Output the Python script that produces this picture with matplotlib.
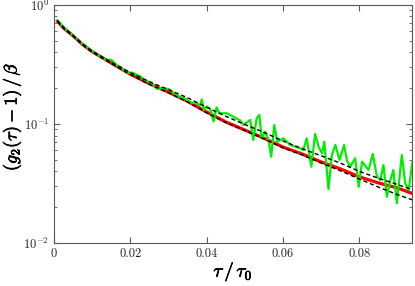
import matplotlib
matplotlib.use("Agg")
import matplotlib.pyplot as plt
import matplotlib.patheffects as pe
from matplotlib.ticker import LogLocator, NullFormatter, FixedLocator

plt.rcParams['mathtext.fontset'] = 'cm'
plt.rcParams['font.family'] = 'serif'
plt.rcParams['font.serif'] = ['cmr10', 'DejaVu Serif']
plt.rcParams['axes.formatter.use_mathtext'] = True

# fitted curve (red)
fit_x = [0.0009, 0.0025, 0.005, 0.0075, 0.01, 0.015, 0.02, 0.025, 0.03, 0.035,
         0.04, 0.045, 0.05, 0.055, 0.06, 0.065, 0.07, 0.075, 0.08, 0.085,
         0.09, 0.094]
fit_y = [0.73, 0.64, 0.55, 0.465, 0.405, 0.325, 0.262, 0.218, 0.185, 0.155,
         0.126, 0.104, 0.089, 0.076, 0.064, 0.056, 0.048, 0.042, 0.036, 0.032,
         0.029, 0.026]

# upper / lower bounds (black dashed)
upper_y = [0.74, 0.65, 0.555, 0.47, 0.41, 0.33, 0.27, 0.226, 0.194, 0.166,
           0.138, 0.116, 0.099, 0.085, 0.072, 0.062, 0.054, 0.047, 0.040, 0.035,
           0.031, 0.028]
lower_y = [0.725, 0.635, 0.545, 0.46, 0.40, 0.322, 0.259, 0.215, 0.183, 0.153,
           0.124, 0.103, 0.088, 0.075, 0.063, 0.055, 0.047, 0.0405, 0.0345, 0.0295,
           0.0255, 0.023]

# measured data (green)
data_x = [0.0009, 0.0025, 0.005, 0.0075, 0.010, 0.012, 0.0135, 0.0151, 0.0165,
          0.0175, 0.019, 0.0205, 0.0225, 0.024, 0.0255, 0.0269, 0.0285, 0.0302,
          0.0315, 0.033, 0.0345, 0.0355, 0.037, 0.0383, 0.0387, 0.0393, 0.0400,
          0.0409, 0.0418, 0.0426, 0.0433, 0.0453, 0.0470, 0.0488, 0.0496, 0.0514,
          0.0522, 0.0531, 0.0538, 0.0544, 0.0553, 0.0562, 0.0569, 0.0577, 0.0585,
          0.0601, 0.0619, 0.0645, 0.0653, 0.0662, 0.0674, 0.0684, 0.0693, 0.0702,
          0.0708, 0.0719, 0.0728, 0.0737, 0.0748, 0.0760, 0.0767, 0.0776, 0.0789,
          0.0798, 0.0807, 0.0824, 0.0835, 0.0846, 0.0855, 0.0863, 0.0872, 0.0881,
          0.0889, 0.0898, 0.0911, 0.0920, 0.0929, 0.0939]
data_y = [0.74, 0.65, 0.555, 0.47, 0.41, 0.37, 0.345, 0.345, 0.31,
          0.30, 0.268, 0.27, 0.252, 0.232, 0.222, 0.198, 0.20, 0.196,
          0.18, 0.168, 0.163, 0.152, 0.15, 0.144, 0.161, 0.131, 0.140,
          0.135, 0.105, 0.138, 0.123, 0.123, 0.115, 0.107, 0.098, 0.108,
          0.0734, 0.112, 0.119, 0.0758, 0.0862, 0.0734, 0.0531, 0.098, 0.071,
          0.0758, 0.0666, 0.0625, 0.0605, 0.0758, 0.0438, 0.0824, 0.0645, 0.0567,
          0.071, 0.0284, 0.0549, 0.0666, 0.0498, 0.0666, 0.0498, 0.0438, 0.0515,
          0.0297, 0.0482, 0.0411, 0.056, 0.0361, 0.0338, 0.0452, 0.0245, 0.0338,
          0.0411, 0.0216, 0.0549, 0.0318, 0.0279, 0.0482]

x_ticks = [0, 0.02, 0.04, 0.06, 0.08]
x_ticklabels = ['0', '0.02', '0.04', '0.06', '0.08']

fig = plt.figure(figsize=(4.15, 2.86), dpi=100)
ax = fig.add_axes([0.130, 0.150, 0.863, 0.833])

ax.plot(fit_x, fit_y, color='red', lw=2.3)
ax.plot(data_x, data_y, color='#00ee00', lw=1.6)
ax.plot(fit_x, upper_y, color='black', ls='--', lw=1.0, dashes=(3, 2))
ax.plot(fit_x, lower_y, color='black', ls='--', lw=1.0, dashes=(3, 2))

ax.set_yscale('log')
ax.set_xlim(0, 0.0938)
ax.set_ylim(1e-2, 1)
ax.xaxis.set_major_locator(FixedLocator(x_ticks))
ax.set_xticklabels(x_ticklabels)
ax.yaxis.set_major_locator(LogLocator(base=10, numticks=5))
ax.yaxis.set_minor_locator(LogLocator(base=10, subs=range(2, 10), numticks=10))
ax.yaxis.set_minor_formatter(NullFormatter())

ax.tick_params(which='both', direction='in', top=True, right=True,
               color='0.35', labelsize=9, labelcolor='0.15')
ax.tick_params(which='major', length=4)
ax.tick_params(which='minor', length=2)
for sp in ax.spines.values():
    sp.set_color('0.35')
    sp.set_linewidth(0.8)

# bold-looking labels
bold = [pe.withStroke(linewidth=0.5, foreground='black')]
ax.set_xlabel(r'$\tau\,/\,\tau_0$', fontsize=13.5, labelpad=1,
              path_effects=bold)
ax.set_ylabel(r'$(g_2(\tau)-1)\,/\,\beta$', fontsize=13,
              path_effects=bold)
ax.yaxis.set_label_coords(-0.085, 0.53)

fig.savefig('out.png', dpi=100)
